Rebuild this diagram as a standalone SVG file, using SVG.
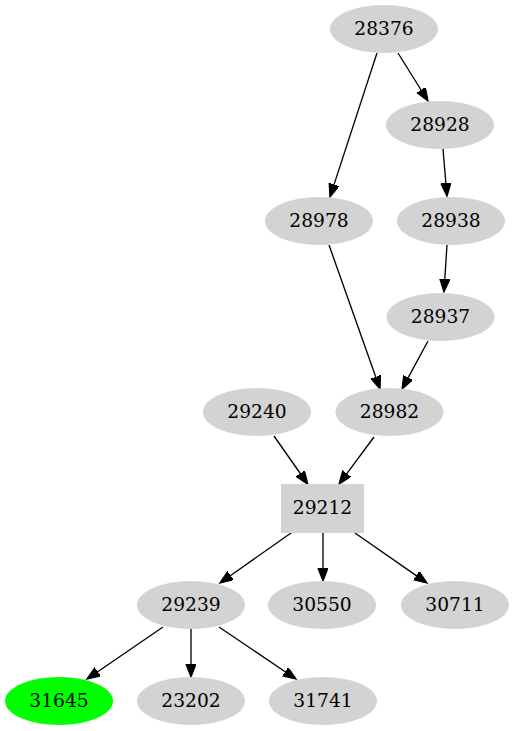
<svg xmlns="http://www.w3.org/2000/svg" width="514" height="731" viewBox="0 0 514 731">
<style>
.n{fill:#d3d3d3;stroke:none}
.g{fill:#00ff00;stroke:none}
text{font-family:"DejaVu Serif","Liberation Serif",serif;font-size:18.67px;text-anchor:middle;fill:#000}
.e{stroke:#000;stroke-width:1.33;fill:none;marker-end:url(#a)}
</style>
<defs>
<marker id="a" markerUnits="userSpaceOnUse" markerWidth="15" markerHeight="12" refX="0" refY="5" orient="auto">
<path d="M0,0 L13,5 L0,10 z" fill="#000" stroke="#000" stroke-width="1.33"/>
</marker>
</defs>
<rect width="514" height="731" fill="#fff"/>
<g id="edges">
<path class="e" d="M398,53 L421.1,90"/>
<path class="e" d="M377,53 L334,184.6"/>
<path class="e" d="M443,149 L445.9,183.1"/>
<path class="e" d="M447,245 L444.8,279"/>
<path class="e" d="M329,245 L375.7,376.8"/>
<path class="e" d="M428,341 L408.2,377.6"/>
<path class="e" d="M274,436 L300.3,473.5"/>
<path class="e" d="M374,437 L346.8,473.6"/>
<path class="e" d="M291,533 L230.6,575.5"/>
<path class="e" d="M323,533 L323,568"/>
<path class="e" d="M355,533 L416.3,575.6"/>
<path class="e" d="M163,627 L97.7,671.7"/>
<path class="e" d="M191,629 L191,664"/>
<path class="e" d="M219,627 L285.2,671.7"/>
</g>
<g id="n28376"><ellipse class="n" cx="384" cy="29" rx="54" ry="24"/><text x="384" y="35">28376</text></g>
<g id="n28928"><ellipse class="n" cx="440" cy="125" rx="54" ry="24"/><text x="440" y="131">28928</text></g>
<g id="n28978"><ellipse class="n" cx="319" cy="221" rx="54" ry="24"/><text x="319" y="227">28978</text></g>
<g id="n28938"><ellipse class="n" cx="451" cy="221" rx="54" ry="24"/><text x="451" y="227">28938</text></g>
<g id="n28937"><ellipse class="n" cx="440.5" cy="317" rx="54" ry="24"/><text x="440.5" y="323">28937</text></g>
<g id="n29240"><ellipse class="n" cx="257" cy="412" rx="54" ry="24"/><text x="257" y="418">29240</text></g>
<g id="n28982"><ellipse class="n" cx="389.5" cy="412" rx="54" ry="24"/><text x="389.5" y="418">28982</text></g>
<g id="n29212"><rect class="n" x="281" y="484" width="83" height="49"/><text x="322.5" y="514">29212</text></g>
<g id="n29239"><ellipse class="n" cx="191" cy="605" rx="54" ry="24"/><text x="191" y="611">29239</text></g>
<g id="n30550"><ellipse class="n" cx="322" cy="605" rx="54" ry="24"/><text x="322" y="611">30550</text></g>
<g id="n30711"><ellipse class="n" cx="455" cy="605" rx="54" ry="24"/><text x="455" y="611">30711</text></g>
<g id="n31645"><ellipse class="g" cx="59" cy="701" rx="54" ry="24"/><text x="59" y="707">31645</text></g>
<g id="n23202"><ellipse class="n" cx="191" cy="701" rx="54" ry="24"/><text x="191" y="707">23202</text></g>
<g id="n31741"><ellipse class="n" cx="323" cy="701" rx="54" ry="24"/><text x="323" y="707">31741</text></g>
</svg>
